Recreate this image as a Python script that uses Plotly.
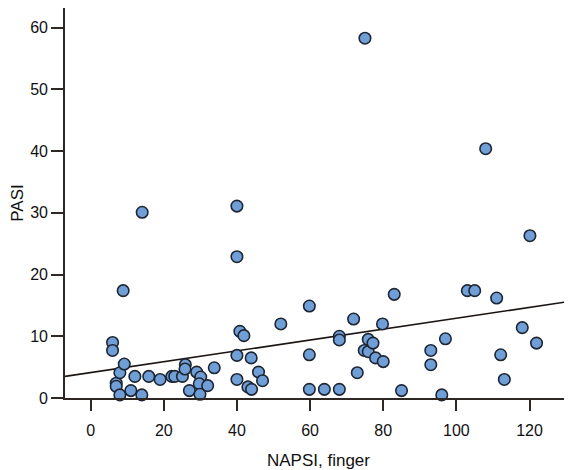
import plotly.graph_objects as go

napsi = [6.0, 6.0, 7.0, 7.0, 8.0, 8.0, 9.2, 8.9, 11.0, 12.1, 14.0, 14.1, 15.9, 19.0,
         22.2, 23.0, 25.1, 25.9, 25.8, 27.0, 29.0, 30.1, 29.7, 29.9, 32.0, 33.8,
         40.0, 40.0, 40.0, 40.0, 40.8, 41.9, 43.0, 44.0, 43.9, 45.9, 47.0, 52.0,
         59.8, 59.8, 59.8, 63.9, 68.0, 68.0, 68.0, 71.9, 72.9, 74.8, 75.0, 75.9,
         75.9, 77.2, 77.9, 80.0, 79.8, 83.0, 85.0, 93.0, 93.0, 96.0, 97.0, 103.0,
         105.0, 108.0, 111.0, 112.1, 113.1, 118.0, 120.1, 121.9]
pasi = [9.0, 7.7, 2.4, 1.9, 4.1, 0.5, 5.5, 17.4, 1.2, 3.5, 0.5, 30.1, 3.5, 3.0,
        3.5, 3.5, 3.5, 5.4, 4.7, 1.2, 4.2, 3.4, 2.3, 0.6, 2.0, 4.9,
        31.1, 22.9, 6.9, 3.0, 10.8, 10.1, 1.8, 1.4, 6.5, 4.2, 2.8, 12.0,
        14.9, 7.0, 1.4, 1.4, 1.4, 10.0, 9.4, 12.8, 4.1, 7.7, 58.3, 9.5,
        7.5, 8.9, 6.5, 5.9, 12.0, 16.8, 1.2, 7.7, 5.4, 0.5, 9.6, 17.4,
        17.4, 40.4, 16.2, 7.0, 3.0, 11.4, 26.3, 8.9]

fit_intercept = 4.12
fit_slope = 0.088
x_range = [-7, 131.6]
y_range = [0, 63.2]
x_ticks = [0, 20, 40, 60, 80, 100, 120]
y_ticks = [0, 10, 20, 30, 40, 50, 60]

fit_x = x_range
fit_y = [fit_intercept + fit_slope * v for v in fit_x]

axis_col = "#2e2724"
fig = go.Figure()
fig.add_trace(go.Scatter(x=fit_x, y=fit_y, mode="lines",
                         line=dict(color="#1a1512", width=1.6),
                         showlegend=False, hoverinfo="skip"))
fig.add_trace(go.Scatter(x=napsi, y=pasi, mode="markers",
                         marker=dict(size=11.5, color="#6f9fd6",
                                     line=dict(color="#1e2633", width=1.6)),
                         showlegend=False, cliponaxis=False))

fig.update_layout(
    width=572, height=470,
    margin=dict(l=57, r=8, t=0, b=80, autoexpand=False),
    paper_bgcolor="white", plot_bgcolor="white",
    font=dict(family="Liberation Sans, Arial, sans-serif", size=16, color="#111111"),
    xaxis=dict(range=x_range, tickvals=x_ticks, ticks="outside", ticklen=11,
               tickwidth=1.5, tickcolor=axis_col, showline=True, linecolor=axis_col,
               linewidth=1.6, mirror=True, showgrid=False, zeroline=False,
               ticklabelstandoff=6, automargin=False,
               title=dict(text="NAPSI, finger", font=dict(size=17), standoff=16)),
    yaxis=dict(range=y_range, tickvals=y_ticks, ticks="outside", ticklen=12,
               tickwidth=1.5, tickcolor=axis_col, showline=True, linecolor=axis_col,
               linewidth=1.6, showgrid=False, zeroline=False, automargin=False,
               title=dict(text="PASI", font=dict(size=17), standoff=6)),
)

fig.write_html("out.html")
